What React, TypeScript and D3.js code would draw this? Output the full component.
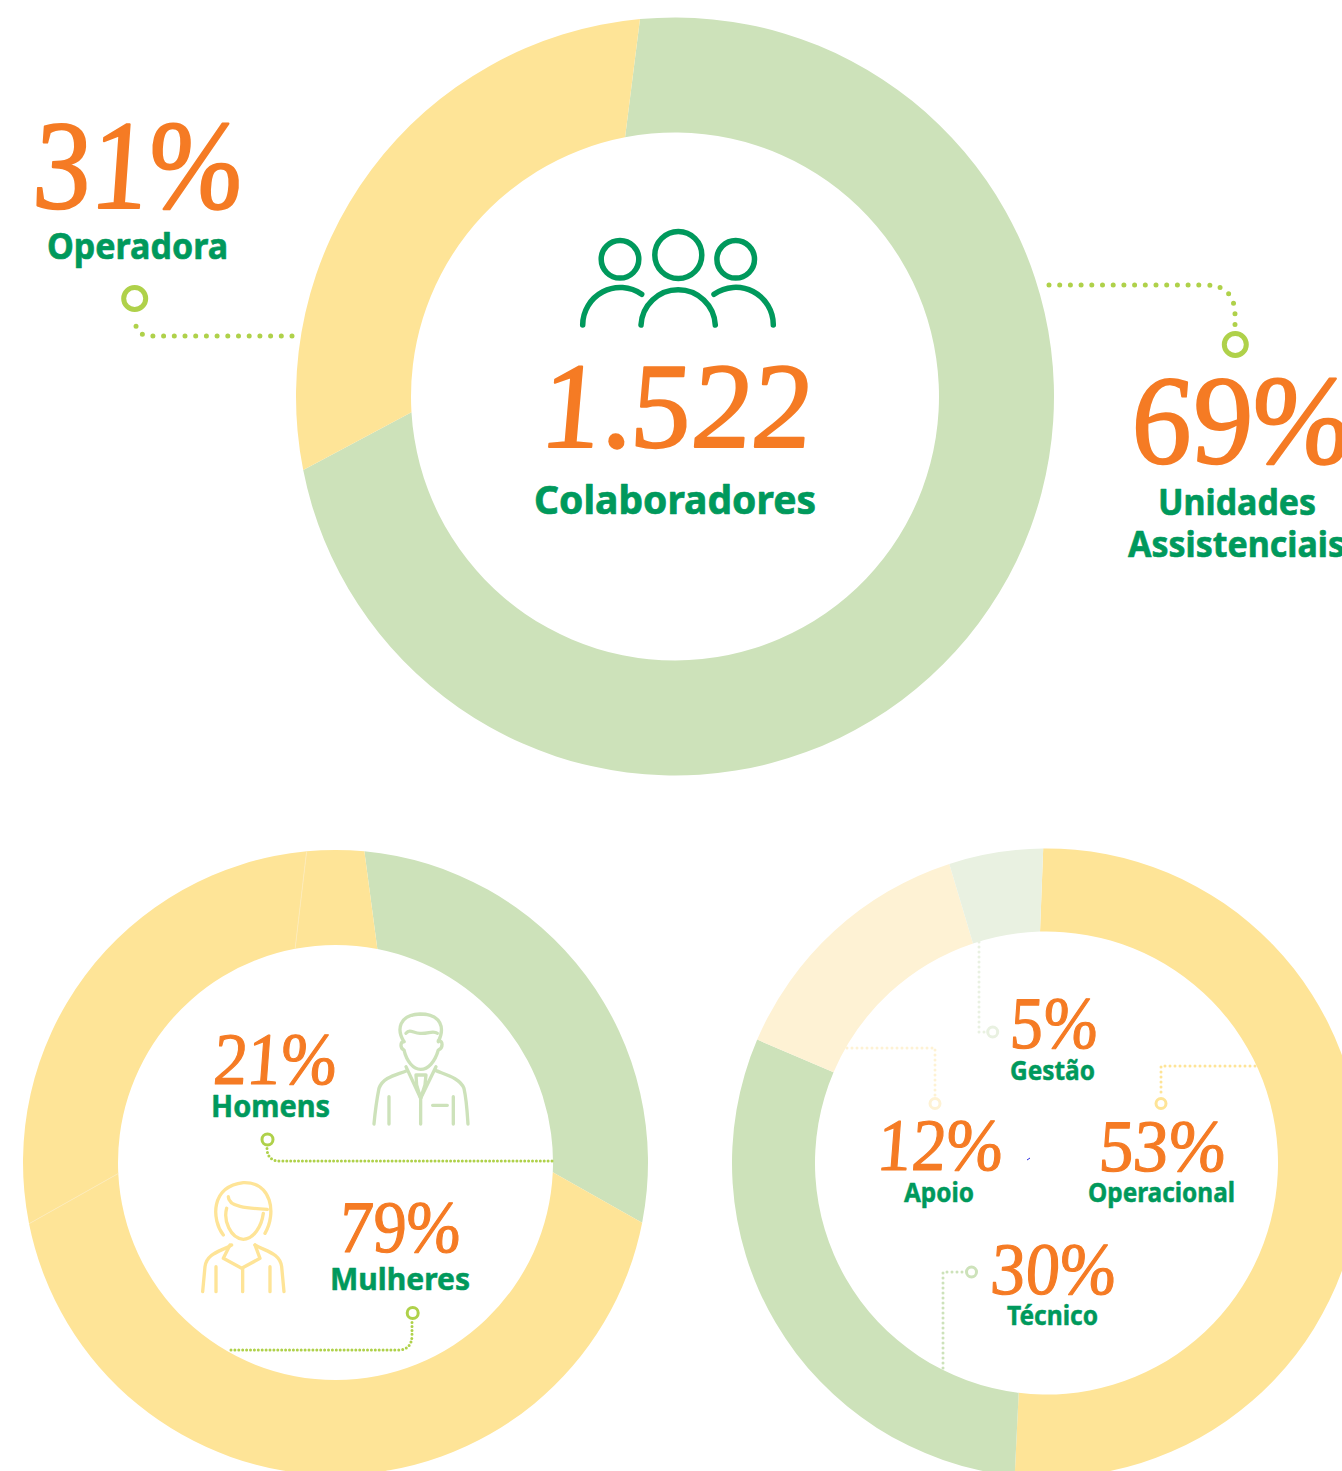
import React from "react";
import * as d3 from "d3";

const GREEN = "#cde2ba", YELLOW = "#fee497", PALE_Y = "#fef2d4", PALE_G = "#e9f1e1";
const ORANGE = "#f57b24", TEXT = "#00995c", LIME = "#afd14a", SEAM = "#fdebb8";
const NUM_FONT = "'Liberation Serif', serif";
const LABEL_FONT = "'Noto Sans', sans-serif";

// Segment boundaries, in degrees clockwise from the top.
// The drawn segment edges are not radial, so outer and inner rims differ.
const unitOuter = [-5.3, 258.8];
const unitInner = [-10.9, 266.6];
const unitColors = [GREEN, YELLOW];
const genderOuter = [5.3, 101.1, 258.7, 354.7];
const genderInner = [11.1, 92.6, 267.1, 349.3];
const genderColors = [GREEN, YELLOW, YELLOW, YELLOW];
const genderSeams = [2, 3];
const roleOuter = [-0.6, 185.8, 293.1, 342.0];
const roleInner = [-1.6, 186.9, 293.1, 341.5];
const roleColors = [YELLOW, GREEN, PALE_Y, PALE_G];

const rad = (d: number) => ((d - 90) * Math.PI) / 180;

function Ring({ cx, cy, R, r, outer, inner, colors, seams = [] }: any) {
  const oPairs = d3.pairs([...outer, outer[0] + 360]);
  const iPairs = d3.pairs([...inner, inner[0] + 360]);
  return (
    <g transform={`translate(${cx},${cy})`}>
      {oPairs.map(([a0, a1]: any, i: number) => {
        const [b0, b1] = iPairs[i] as any;
        const p = d3.path();
        p.arc(0, 0, R, rad(a0), rad(a1));
        p.arc(0, 0, r, rad(b1), rad(b0), true);
        p.closePath();
        return <path key={i} d={p.toString()} fill={colors[i]} />;
      })}
      {seams.map((i: number) => (
        <line key={i} x1={R * Math.cos(rad(outer[i]))} y1={R * Math.sin(rad(outer[i]))}
          x2={r * Math.cos(rad(inner[i]))} y2={r * Math.sin(rad(inner[i]))} stroke={SEAM} strokeWidth={1} />
      ))}
    </g>
  );
}

function Fit({ x0, x1, y, size, fill, font, weight, italic, bold, skew = 0, children }: any) {
  return (
    <text transform={`translate(${x0 + size * 0.03 * (skew ? 1 : 0)},${y}) skewX(${skew})`} fontSize={size} fill={fill} stroke={fill} strokeWidth={bold} strokeLinejoin="round" fontFamily={font} fontWeight={weight} fontStyle={italic ? "italic" : "normal"}
      textLength={x1 - x0} lengthAdjust="spacingAndGlyphs">{children}</text>
  );
}
const Num = (p: any) => <Fit {...p} fill={ORANGE} font={NUM_FONT} italic weight={400} bold={p.size * 0.016} skew={5} />;
const Lab = (p: any) => <Fit {...p} fill={TEXT} font={LABEL_FONT} weight={700} bold={p.size * 0.018} />;

function Leader({ d, ring, r, color, w, gap }: any) {
  return (
    <g fill="none" stroke={color}>
      <path d={d} strokeWidth={w} strokeLinecap="round" strokeDasharray={`0 ${gap}`} />
      <circle cx={ring[0]} cy={ring[1]} r={r} strokeWidth={w} />
    </g>
  );
}

export default function App() {
  return (
    <svg width={1342} height={1471} viewBox="0 0 1342 1471"
      style={{ position: "absolute", left: 0, top: 0, display: "block", background: "#fff" }}>
      <Ring cx={675} cy={396.5} R={379} r={264} outer={unitOuter} inner={unitInner} colors={unitColors} />
      <Ring cx={335.5} cy={1162.5} R={312.5} r={217.5} outer={genderOuter} inner={genderInner} colors={genderColors} seams={genderSeams} />
      <Ring cx={1046.5} cy={1163} R={314.5} r={231.5} outer={roleOuter} inner={roleInner} colors={roleColors} />

      {/* People icon */}
      <g fill="none" stroke={TEXT} strokeWidth={5.5} strokeLinecap="round">
        <circle cx={620} cy={259.3} r={18.8} />
        <circle cx={678.3} cy={255} r={23.5} />
        <circle cx={735.7} cy={259.3} r={18.8} />
        <path d="M582.7,325 A37.5,37.5 0 0 1 641.7,294.3" />
        <path d="M641,325 A37.2,37.2 0 0 1 715.3,325" />
        <path d="M714,294.3 A37.5,37.5 0 0 1 773.3,325" />
      </g>

      {/* Man icon */}
      <g transform="translate(180,1000) scale(0.3333)" fill="none" stroke={GREEN} strokeWidth={10} strokeLinecap="round" strokeLinejoin="round">
        <path d="M672,125 C650,90 655,45 720,42 C785,42 795,85 775,125" />
        <path d="M678,100 C690,85 700,100 720,100 C745,102 760,90 772,100" />
        <path d="M672,125 C660,125 660,145 672,150 C680,185 700,208 722,208 C745,208 765,185 775,150 C790,145 790,120 775,122" />
        <path d="M678,200 L722,295 L768,200" />
        <path d="M708,225 L738,225 L735,255 L722,295 L710,255 Z" />
        <path d="M680,212 C650,225 610,230 597,265 C590,300 585,340 582,372" />
        <path d="M768,212 C800,225 840,235 852,265 C860,300 862,340 864,372" />
        <path d="M627,290 V372 M820,290 V372 M722,295 V372 M758,316 H802" />
      </g>

      {/* Woman icon */}
      <g transform="translate(180,1000) scale(0.3333)" fill="none" stroke={YELLOW} strokeWidth={10} strokeLinecap="round" strokeLinejoin="round">
        <path d="M130,705 C95,660 90,560 190,548 C275,545 290,640 255,700" />
        <path d="M145,590 C145,620 200,625 262,628" />
        <path d="M140,625 C130,660 150,715 190,718 C220,718 245,680 250,640" />
        <path d="M155,735 C120,755 80,760 75,800 L68,875" />
        <path d="M225,735 C260,755 300,760 305,800 L312,875" />
        <path d="M150,735 L130,775 L185,805 L240,775 L225,735" />
        <path d="M188,805 V875 M108,800 V875 M270,800 V875" />
      </g>

      {/* Leaders */}
      <Leader d="M1049,285 H1205 Q1235,285 1235,315 V332" ring={[1235.3, 344.5]} r={11} color={LIME} w={5} gap={10.7} />
      <Leader d="M292,336 H150 Q136,336 135,320" ring={[134.7, 298.5]} r={11} color={LIME} w={5} gap={10.7} />
      <Leader d="M552,1161 H280 Q267,1161 267,1148" ring={[267.5, 1139.5]} r={5.5} color={LIME} w={3} gap={3.9} />
      <Leader d="M231,1350 H398 Q412,1350 412,1335 V1321" ring={[412.7, 1313]} r={5.5} color={LIME} w={3} gap={3.9} />
      <Leader d="M979,942 V1032 H986" ring={[992.7, 1032]} r={5} color={PALE_G} w={3} gap={5} />
      <Leader d="M847,1048 H935 V1097" ring={[935, 1103.5]} r={5} color={PALE_Y} w={3} gap={5} />
      <Leader d="M1255,1066 H1161 V1097" ring={[1161, 1103.5]} r={5} color={YELLOW} w={3} gap={5} />
      <Leader d="M943,1368 V1272 H964" ring={[971.5, 1272]} r={5} color={GREEN} w={3} gap={5} />

      {/* Numbers */}
      <Num x0={34} x1={243} y={208} size={127}>31%</Num>
      <Num x0={541} x1={811} y={447} size={122}>1.522</Num>
      <Num x0={1131} x1={1351} y={463} size={127}>69%</Num>
      <Num x0={213} x1={337} y={1084} size={74}>21%</Num>
      <Num x0={339} x1={461} y={1252} size={74}>79%</Num>
      <Num x0={1010} x1={1098} y={1048} size={74}>5%</Num>
      <Num x0={877} x1={1003} y={1170} size={74}>12%</Num>
      <Num x0={1099} x1={1226} y={1171} size={74}>53%</Num>
      <Num x0={991} x1={1116} y={1294} size={74}>30%</Num>

      {/* Labels */}
      <Lab x0={47} x1={228} y={259} size={36}>Operadora</Lab>
      <Lab x0={534} x1={816} y={514} size={40}>Colaboradores</Lab>
      <Lab x0={1158} x1={1316} y={515} size={36}>Unidades</Lab>
      <Lab x0={1128} x1={1345} y={557} size={36}>Assistenciais</Lab>
      <Lab x0={211} x1={330} y={1117} size={31}>Homens</Lab>
      <Lab x0={330} x1={470} y={1290} size={31}>Mulheres</Lab>
      <Lab x0={1010} x1={1095} y={1080} size={27}>Gestão</Lab>
      <Lab x0={904} x1={974} y={1202} size={27}>Apoio</Lab>
      <Lab x0={1088} x1={1235} y={1202} size={27}>Operacional</Lab>
      <Lab x0={1007} x1={1098} y={1325} size={27}>Técnico</Lab>

      <path d="M1027,1160 L1030,1158" stroke="#2a2ae0" strokeWidth={1} />
    </svg>
  );
}
